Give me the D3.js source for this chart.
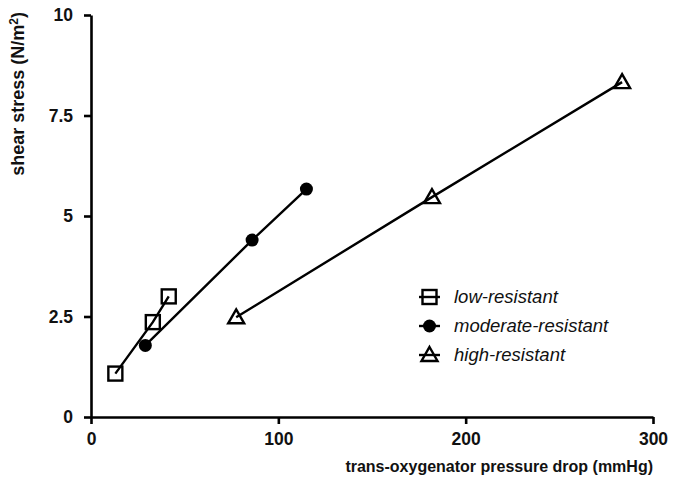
<!DOCTYPE html>
<html>
<head>
<meta charset="utf-8">
<script src="https://cdn.jsdelivr.net/npm/d3@7"></script>
<style>
  body { margin: 0; background: #fff; }
  text { font-family: "Liberation Sans", Arial, sans-serif; }
</style>
</head>
<body>
<svg id="chart" width="683" height="481"></svg>
<script>
// values
const lowX = [13, 33, 41.5];
const lowY = [1.08, 2.36, 3.0];
const modX = [29, 86, 115];
const modY = [1.78, 4.4, 5.67];
const highX = [77.5, 182, 283.5];
const highY = [2.48, 5.47, 8.33];
const xTicks = [0, 100, 200, 300];
const yTicks = [0, 2.5, 5, 7.5, 10];
const seriesNames = ["low-resistant", "moderate-resistant", "high-resistant"];

const margin = {top: 15, right: 30, bottom: 64, left: 91};
const width = 683, height = 481;

const svg = d3.select("#chart");

const x = d3.scaleLinear().domain([0, 300]).range([margin.left, width - margin.right]);
const y = d3.scaleLinear().domain([0, 10]).range([height - margin.bottom, margin.top]);

const series = [
  {name: seriesNames[0], shape: "square", pts: lowX.map((v, i) => ({x: v, y: lowY[i]}))},
  {name: seriesNames[1], shape: "circle", pts: modX.map((v, i) => ({x: v, y: modY[i]}))},
  {name: seriesNames[2], shape: "triangle", pts: highX.map((v, i) => ({x: v, y: highY[i]}))}
];

// axes
const xAxis = svg.append("g")
  .attr("transform", `translate(0, ${y(0)})`)
  .call(d3.axisBottom(x).tickValues(xTicks).tickSize(7).tickSizeOuter(0).tickFormat(d3.format("d")));
const yAxis = svg.append("g")
  .attr("transform", `translate(${x(0)}, 0)`)
  .call(d3.axisLeft(y).tickValues(yTicks).tickSize(7).tickSizeOuter(0).tickFormat(d => d));

[xAxis, yAxis].forEach(g => {
  g.select(".domain").attr("stroke", "#000").attr("stroke-width", 2.6);
  g.selectAll(".tick line").attr("stroke", "#000").attr("stroke-width", 2.6);
  g.selectAll(".tick text")
    .attr("fill", "#111")
    .style("font-size", "17.5px")
    .style("font-weight", "bold");
});
xAxis.selectAll(".tick text").attr("dy", "1.05em");
yAxis.selectAll(".tick text").attr("x", -18);

// axis titles
svg.append("text")
  .attr("x", x(300))
  .attr("y", 472)
  .attr("text-anchor", "end")
  .style("font-size", "16px")
  .style("font-weight", "bold")
  .attr("fill", "#111")
  .text("trans-oxygenator pressure drop (mmHg)");

const yt = svg.append("text")
  .attr("transform", `translate(24, 12) rotate(-90)`)
  .attr("text-anchor", "end")
  .style("font-size", "18px")
  .style("font-weight", "bold")
  .attr("fill", "#111");
yt.append("tspan").text("shear stress (N/m");
yt.append("tspan").attr("dy", -6).style("font-size", "12px").text("2");
yt.append("tspan").attr("dy", 6).text(")");

// markers
function drawMarker(g, shape, cx, cy) {
  if (shape === "square") {
    g.append("rect")
      .attr("x", cx - 7).attr("y", cy - 7)
      .attr("width", 14).attr("height", 14)
      .attr("fill", "none").attr("stroke", "#000").attr("stroke-width", 2.4);
  } else if (shape === "circle") {
    g.append("circle")
      .attr("cx", cx).attr("cy", cy).attr("r", 6.5)
      .attr("fill", "#000");
  } else {
    g.append("path")
      .attr("d", `M${cx},${cy - 8} L${cx + 8},${cy + 6} L${cx - 8},${cy + 6} Z`)
      .attr("fill", "none").attr("stroke", "#000").attr("stroke-width", 2.4)
      .attr("stroke-linejoin", "miter");
  }
}

const line = d3.line().x(d => x(d.x)).y(d => y(d.y));

series.forEach(s => {
  svg.append("path")
    .datum(s.pts)
    .attr("d", line)
    .attr("fill", "none")
    .attr("stroke", "#000")
    .attr("stroke-width", 2.4);
  const g = svg.append("g");
  s.pts.forEach(p => drawMarker(g, s.shape, x(p.x), y(p.y)));
});

// legend
const legend = svg.append("g");
series.forEach((s, i) => {
  const ly = 297 + i * 29;
  legend.append("line")
    .attr("x1", 419).attr("x2", 440).attr("y1", ly).attr("y2", ly)
    .attr("stroke", "#000").attr("stroke-width", 2.4);
  drawMarker(legend, s.shape, 429.5, ly);
  legend.append("text")
    .attr("x", 454).attr("y", ly)
    .attr("dy", "0.35em")
    .style("font-size", "18.5px")
    .style("font-style", "italic")
    .attr("fill", "#111")
    .text(s.name);
});
</script>
</body>
</html>
